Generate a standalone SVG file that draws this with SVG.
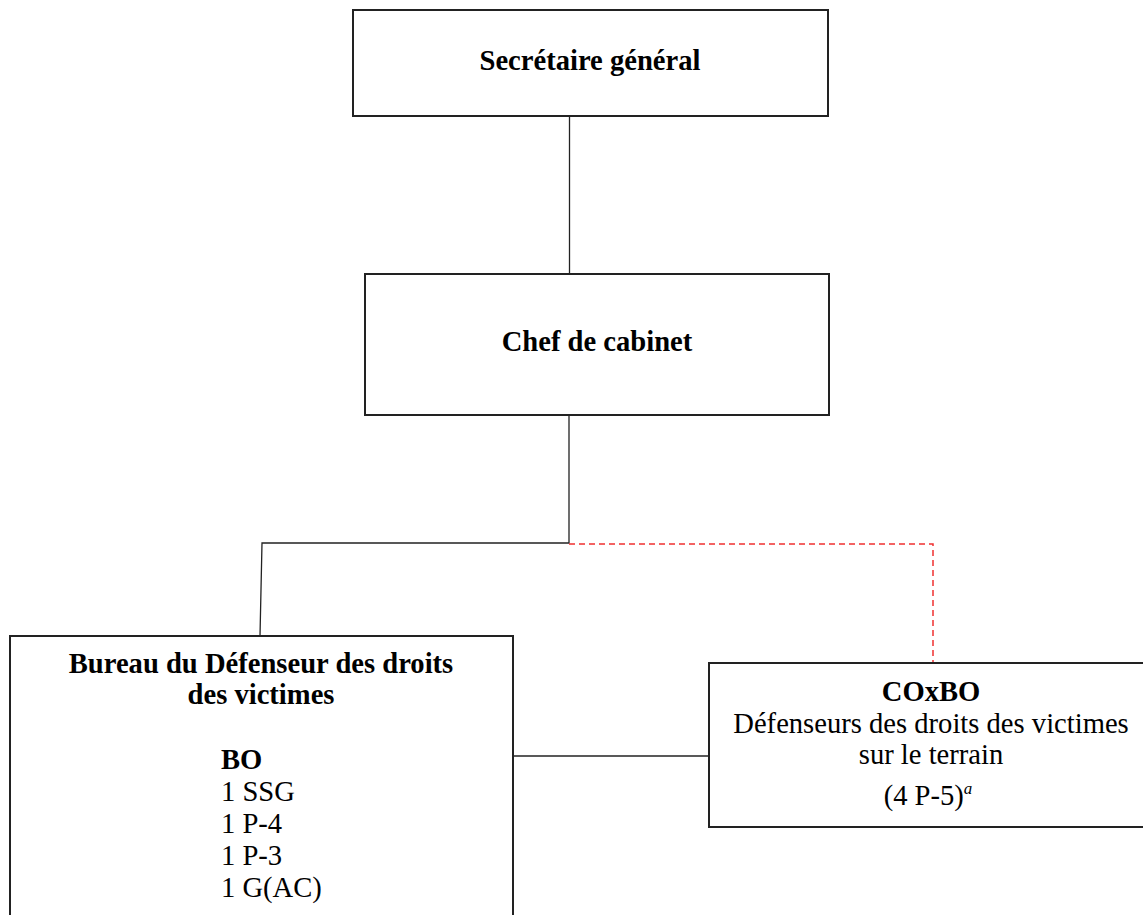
<svg xmlns="http://www.w3.org/2000/svg" width="1143" height="915" viewBox="0 0 1143 915">
<style>
.box{fill:#fff;stroke:#222;stroke-width:2}
.ln{fill:none;stroke:#222;stroke-width:1.3}
.dash{fill:none;stroke:#f03030;stroke-width:1.5;stroke-dasharray:6 4}
text{font-family:"Liberation Serif","Times New Roman",serif;font-size:28.6px;fill:#000}
.b{font-weight:bold}
.c{text-anchor:middle}
</style>
<rect width="1143" height="915" fill="#fff"/>
<g id="connectors">
<line class="ln" x1="569.5" y1="116" x2="569.5" y2="274"/>
<polyline class="ln" points="569,415 569,543 262,543 260,636"/>
<polyline class="dash" points="569,544 933,544 933,663"/>
<line class="ln" x1="513" y1="756" x2="709" y2="756"/>
</g>
<g id="secretaire">
<rect class="box" x="353" y="10" width="475" height="106"/>
<text class="b c" x="590" y="70">Secrétaire général</text>
</g>
<g id="chef">
<rect class="box" x="365" y="274" width="464" height="141"/>
<text class="b c" x="597" y="351">Chef de cabinet</text>
</g>
<g id="bureau">
<rect class="box" x="10" y="636" width="503" height="300"/>
<text class="b c" x="261" y="673">Bureau du Défenseur des droits</text>
<text class="b c" x="261" y="704">des victimes</text>
<text class="b" x="221" y="769">BO</text>
<text x="221" y="801">1 SSG</text>
<text x="221" y="833">1 P-4</text>
<text x="221" y="865">1 P-3</text>
<text x="221" y="897">1 G(AC)</text>
</g>
<g id="coxbo">
<rect class="box" x="709" y="663" width="500" height="164"/>
<text class="b c" x="931" y="701">COxBO</text>
<text class="c" x="931" y="733">Défenseurs des droits des victimes</text>
<text class="c" x="931" y="764">sur le terrain</text>
<text class="c" x="928" y="805">(4 P-5)<tspan font-style="italic" font-size="17" dy="-11">a</tspan></text>
</g>
</svg>
